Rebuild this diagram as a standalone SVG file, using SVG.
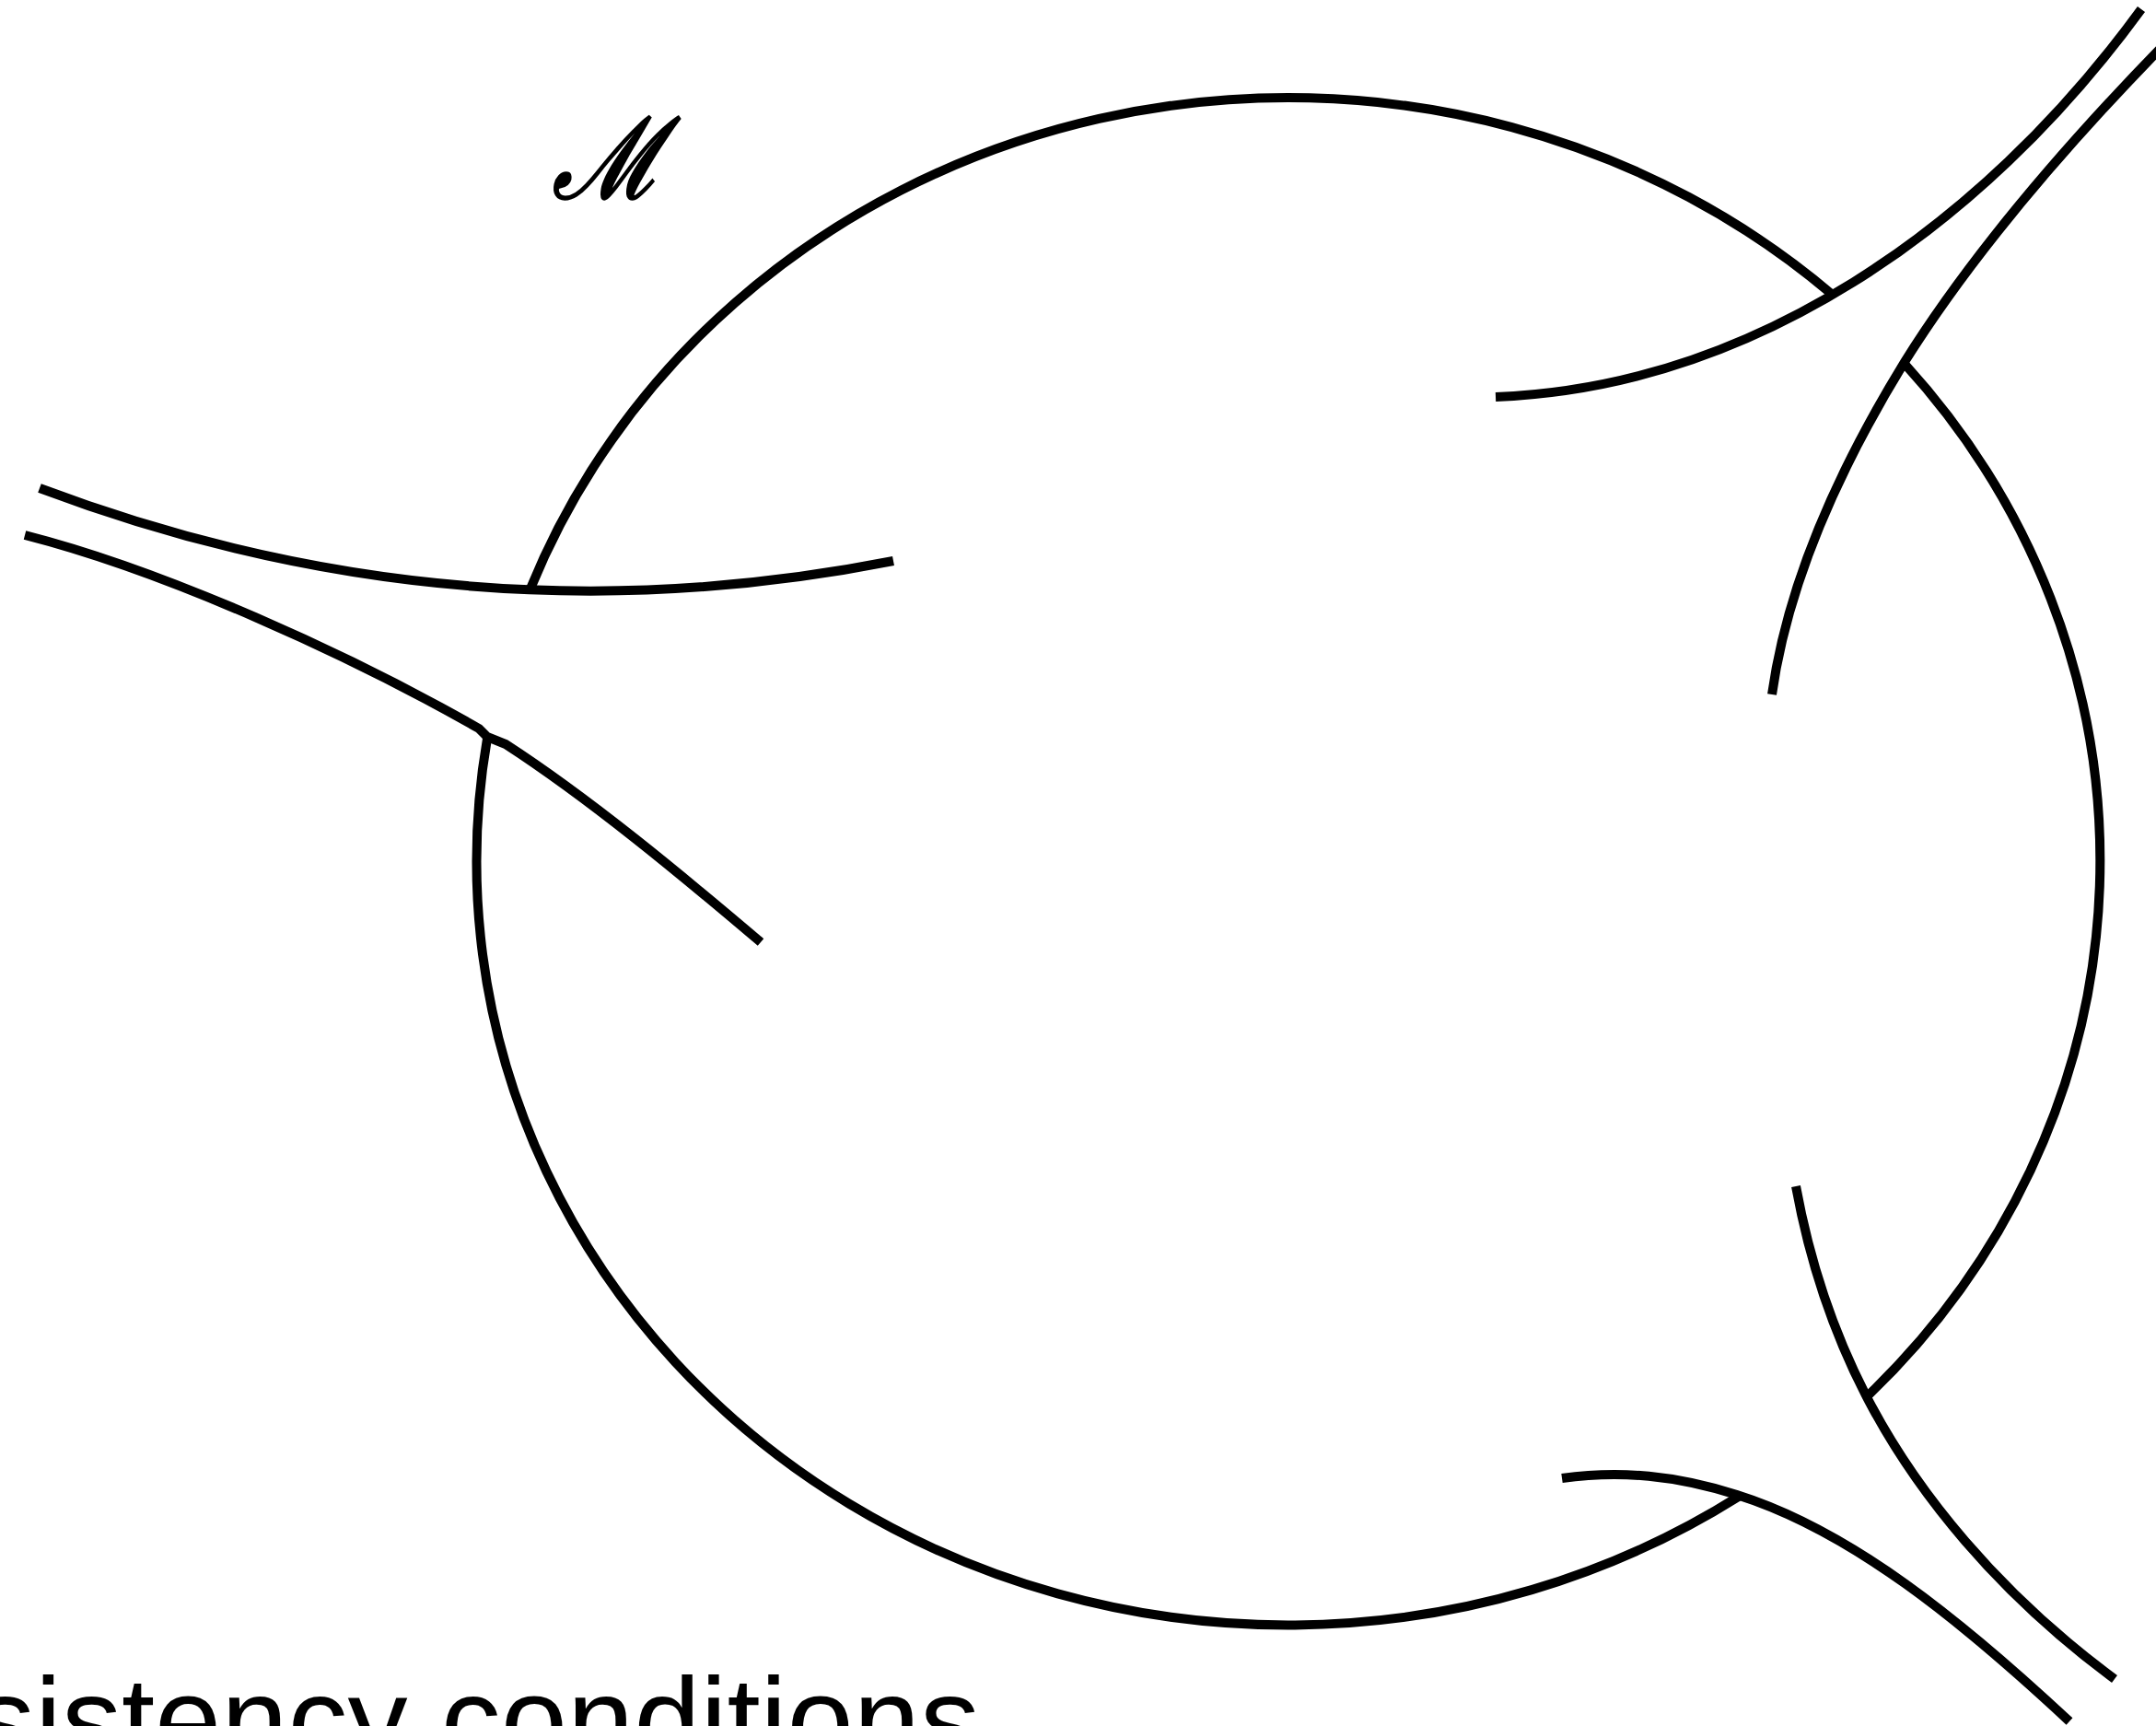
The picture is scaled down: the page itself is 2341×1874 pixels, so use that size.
<svg xmlns="http://www.w3.org/2000/svg" width="2341" height="1874" viewBox="0 0 2341 1874">
<style>
.ln{fill:none;stroke:#000;stroke-width:10;stroke-linejoin:miter}
.lbl{font-family:"DejaVu Serif","Liberation Serif",serif;font-style:italic;fill:#000;stroke:#000;stroke-width:3}
.cap{font-family:"Liberation Sans",Arial,sans-serif;fill:#000}
</style>
<rect width="2341" height="1874" fill="#fff"/>
<g id="loop">
<path class="ln" d="M576.5,637.9 A881,829 0 0 1 1988.5,319"/>
<path class="ln" d="M2068,395 A881,829 0 0 1 2028.5,1515"/>
<path class="ln" d="M1888,1624.7 A881,829 0 0 1 529,802"/>
</g>
<g id="connectors">
<path id="leg-left-a" class="ln" d="M43,530 Q499,702 970,609"/>
<path id="leg-left-b" class="ln" d="M27,581 C180,620 380,711 520,791 L529,800 L549,808 C640,867 740,950 826,1023"/>
<path id="leg-ur-a" class="ln" d="M1624,431 C1900,420 2150,250 2325,10"/>
<path id="leg-ur-b" class="ln" d="M1924,754 C1940,640 1990,520 2068,393 C2140,278 2240,160 2360,38"/>
<path id="leg-lr-a" class="ln" d="M1950,1288 C1965,1370 1990,1445 2026,1515 C2080,1620 2170,1730 2296,1823"/>
<path id="leg-lr-b" class="ln" d="M1696,1605 C1760,1596 1820,1602 1886,1623 C2010,1662 2130,1760 2247,1869"/>
</g>
<g id="label-M">
<text class="lbl" transform="translate(600,215) scale(0.85,1)" x="0" y="0" font-size="122">ℳ</text>
</g>
<g id="caption">
<text class="cap" x="-27" y="1912" font-size="130">sistency conditions</text>
</g>
</svg>
